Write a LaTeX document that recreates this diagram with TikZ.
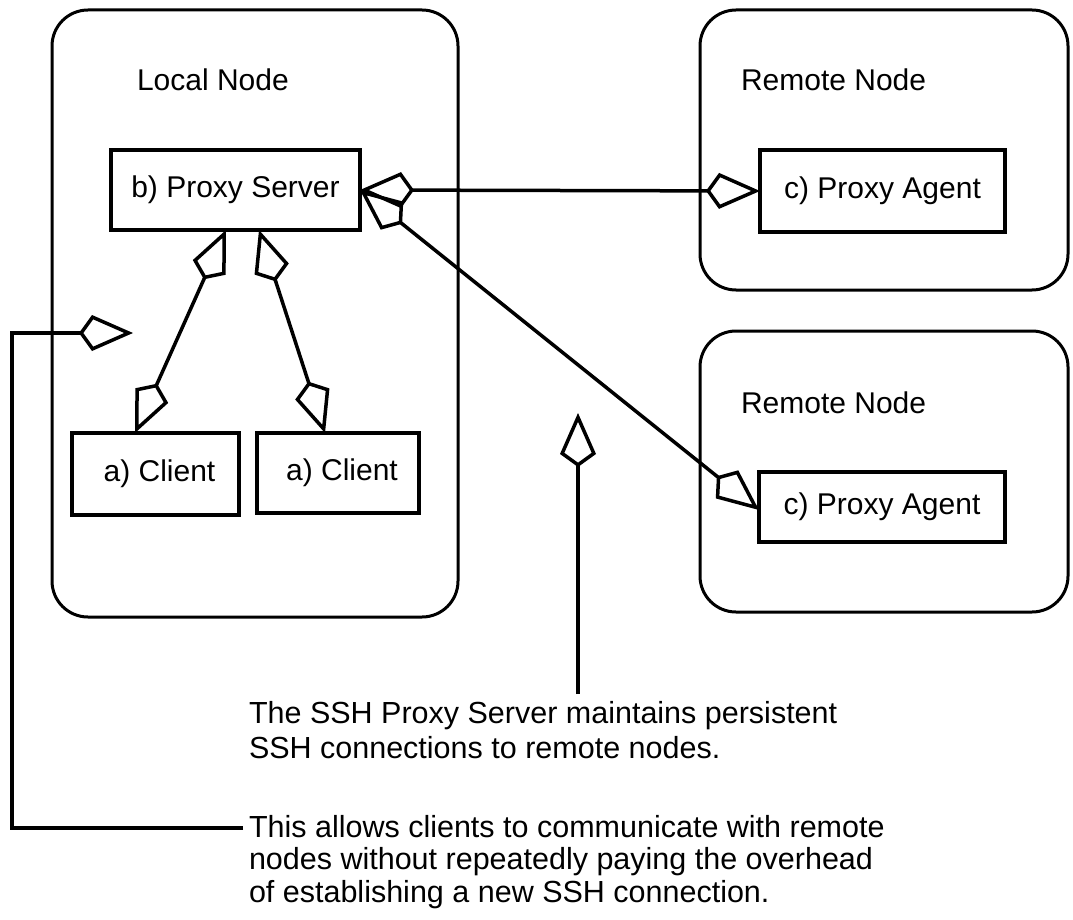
\documentclass[tikz,border=0pt]{standalone}
\usepackage{fontspec}
\setmainfont{Liberation Sans}
\usetikzlibrary{arrows.meta,calc}
\begin{document}
\begin{tikzpicture}[x=1pt,y=-1pt,
  every node/.style={font=\fontsize{30}{35}\selectfont, inner sep=0pt, outer sep=0pt},
  container/.style={draw, line width=3pt, rounded corners=36pt},
  part/.style={draw, line width=3.5pt},
  label/.style={anchor=base west},
  note/.style={anchor=north west, align=left},
  kite/.tip={Kite[open,length=54pt,width=36pt,inset=13pt]},
  agg/.style={line width=3.5pt, kite-kite},
  aggend/.style={line width=3.5pt, -kite},
]
\useasboundingbox (0,0) rectangle (1073,920);

% deployment nodes
\node[container, minimum width=406pt, minimum height=607pt] (local) at (255,313.5) {};
\node[container, minimum width=368pt, minimum height=280pt] (remoteA) at (884,150) {};
\node[container, minimum width=368pt, minimum height=281pt] (remoteB) at (884,471.5) {};

\node[label] (localLbl) at (137,91) {Local Node};
\node[label] (remoteALbl) at (741,91) {Remote Node};
\node[label] (remoteBLbl) at (741,413) {Remote Node};

% components
\node[part, minimum width=249pt, minimum height=80pt] (server) at (235.5,190) {b) Proxy Server};
\node[part, minimum width=245pt, minimum height=82pt] (agentA) at (882.5,191) {c) Proxy Agent};
\node[part, minimum width=246pt, minimum height=70pt] (agentB) at (882,507) {c) Proxy Agent};
\node[part, minimum width=167pt, minimum height=82pt] (clientA) at (155.5,474) {\hspace*{8pt}a) Client};
\node[part, minimum width=162pt, minimum height=80pt] (clientB) at (338,473) {\hspace*{8pt}a) Client};

% aggregation links
\draw[agg] (server.east) -- (agentA.west);
\draw[agg] (server.east) -- ([yshift=-3pt]agentB.west);
\draw[agg] ([xshift=-9.5pt]server.south) -- ([xshift=-20.5pt]clientA.north);
\draw[agg] ([xshift=23.5pt]server.south) -- ([xshift=-13pt]clientB.north);

% notes
\node[note, font=\fontsize{30.5}{35}\selectfont] (noteA) at (249,701)
  {The SSH Proxy Server maintains persistent\\SSH connections to remote nodes.};
\node[note, font=\fontsize{30.5}{32.5}\selectfont] (noteB) at (249,815)
  {This allows clients to communicate with remote\\nodes without repeatedly paying the overhead\\of establishing a new SSH connection.};

\coordinate (noteAstem) at (578,694);
\coordinate (upTip) at (578,413);
\coordinate (noteBstem) at (243,828);
\coordinate (bend) at (12,333);
\coordinate (sideTip) at (133,333);

\draw[aggend] (noteAstem) -- (upTip);
\draw[aggend] (noteBstem) -| (bend) -- (sideTip);
\end{tikzpicture}
\end{document}
